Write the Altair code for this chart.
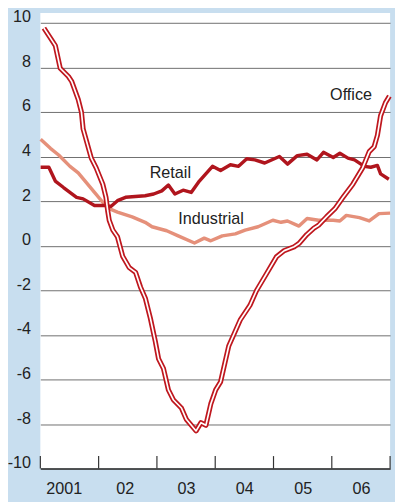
import altair as alt
import pandas as pd

# ---- data (x = fractional year, y = percent) ----
office_x = [2001.062, 2001.202, 2001.257, 2001.341, 2001.482, 2001.538, 2001.650, 2001.706,
            2001.734, 2001.874, 2001.958, 2002.071, 2002.126, 2002.155, 2002.182, 2002.244,
            2002.323, 2002.412, 2002.524, 2002.635, 2002.719, 2002.803, 2002.887, 2002.971,
            2003.029, 2003.113, 2003.197, 2003.281, 2003.420, 2003.504, 2003.672, 2003.756,
            2003.840, 2003.924, 2004.008, 2004.092, 2004.232, 2004.429, 2004.597, 2004.709,
            2004.877, 2005.050, 2005.185, 2005.353, 2005.437, 2005.571, 2005.689, 2005.773,
            2005.908, 2006.054, 2006.193, 2006.361, 2006.529, 2006.642, 2006.726, 2006.782,
            2006.837, 2006.921, 2006.988]
office_y = [9.76, 9.20, 8.98, 7.96, 7.59, 7.37, 6.56, 5.98,
            5.24, 3.93, 3.49, 2.76, 2.17, 1.58, 1.14, 0.70,
            0.40, -0.47, -0.98, -1.20, -1.86, -2.37, -3.25, -4.28,
            -5.08, -5.52, -6.47, -6.91, -7.28, -7.79, -8.31, -7.94,
            -8.06, -7.10, -6.47, -6.11, -4.50, -3.33, -2.67, -2.01,
            -1.27, -0.50, -0.22, -0.05, 0.10, 0.50, 0.78, 0.92,
            1.29, 1.66, 2.17, 2.76, 3.49, 4.22, 4.44, 4.95,
            5.83, 6.42, 6.71]

retail_x = [2001.005, 2001.146, 2001.257, 2001.398, 2001.622, 2001.734, 2001.929, 2002.126,
            2002.210, 2002.323, 2002.462, 2002.798, 2002.945, 2003.084, 2003.197, 2003.308,
            2003.449, 2003.588, 2003.728, 2003.953, 2004.092, 2004.261, 2004.400, 2004.541,
            2004.681, 2004.849, 2005.101, 2005.240, 2005.408, 2005.576, 2005.745, 2005.857,
            2006.025, 2006.138, 2006.277, 2006.390, 2006.558, 2006.669, 2006.782, 2006.837,
            2006.978]
retail_y = [3.52, 3.52, 2.90, 2.61, 2.17, 2.10, 1.80, 1.80,
            1.76, 2.02, 2.17, 2.24, 2.32, 2.46, 2.72, 2.32,
            2.49, 2.39, 2.90, 3.56, 3.37, 3.63, 3.56, 3.90,
            3.85, 3.71, 4.00, 3.66, 4.04, 4.10, 3.85, 4.19,
            3.96, 4.15, 3.93, 3.85, 3.56, 3.52, 3.60, 3.22,
            2.98]

industrial_x = [2001.005, 2001.173, 2001.314, 2001.509, 2001.650, 2001.790, 2001.929, 2002.071,
                2002.182, 2002.323, 2002.575, 2002.798, 2002.916, 2003.168, 2003.365, 2003.644,
                2003.812, 2003.924, 2004.121, 2004.345, 2004.513, 2004.736, 2004.988, 2005.129,
                2005.240, 2005.437, 2005.576, 2005.773, 2006.025, 2006.138, 2006.249, 2006.474,
                2006.642, 2006.810, 2007.000]
industrial_y = [4.78, 4.37, 4.07, 3.56, 3.27, 2.83, 2.39, 1.95,
                1.66, 1.51, 1.29, 1.05, 0.85, 0.67, 0.44, 0.12,
                0.34, 0.22, 0.44, 0.53, 0.70, 0.85, 1.14, 1.05,
                1.11, 0.88, 1.22, 1.14, 1.14, 1.11, 1.36, 1.26,
                1.11, 1.44, 1.46]

year_ticks = [2001, 2002, 2003, 2004, 2005, 2006, 2007]
x_label_pos = [2001.4, 2002.45, 2003.5, 2004.5, 2005.5, 2006.5]
y_ticks = [-10, -8, -6, -4, -2, 0, 2, 4, 6, 8, 10]

series_labels = ["Office", "Retail", "Industrial"]
series_label_x = [2006.33, 2003.23, 2003.93]
series_label_y = [6.77, 3.25, 1.21]

# ---- tables ----
office = pd.DataFrame({"x": office_x, "y": office_y})
retail = pd.DataFrame({"x": retail_x, "y": retail_y})
industrial = pd.DataFrame({"x": industrial_x, "y": industrial_y})
ticks = pd.DataFrame({"x": year_ticks, "y": [-10] * len(year_ticks), "y2": [-9.44] * len(year_ticks)})
labels = pd.DataFrame({"label": series_labels, "x": series_label_x, "y": series_label_y})

FONT = "Liberation Sans, Arial, sans-serif"
FS = 16.5
TXT = "#222222"

xscale = alt.Scale(domain=[2001, 2007], nice=False, zero=False)
yscale = alt.Scale(domain=[-10, 10.44], nice=False, zero=False)

xaxis = alt.Axis(values=x_label_pos, title=None, grid=False, ticks=False, tickSize=0,
                 domain=True, domainColor="#333333", domainWidth=1.5,
                 labelExpr="datum.value < 2002 ? '2001' : '0' + floor(datum.value - 2000)",
                 labelFont=FONT, labelFontSize=FS, labelColor=TXT,
                 labelBaseline="middle", labelPadding=20, labelAlign="center")
yaxis = alt.Axis(values=y_ticks, title=None, grid=True, gridColor="#6e6e6e", gridWidth=1,
                 ticks=False, tickSize=0, domain=False,
                 labelExpr="toString(datum.value)",
                 labelFont=FONT, labelFontSize=FS, labelColor=TXT,
                 labelBaseline="alphabetic", labelPadding=10, labelOffset=-1)

X = alt.X("x:Q", scale=xscale, axis=xaxis)
Y = alt.Y("y:Q", scale=yscale, axis=yaxis)

tick_layer = alt.Chart(ticks).mark_rule(color="#333333", strokeWidth=1.2).encode(
    x=X, y=Y, y2="y2:Q")

ind_layer = alt.Chart(industrial).mark_line(color="#e5907a", strokeWidth=3.5,
                                             strokeJoin="round").encode(x=X, y=Y)
ret_layer = alt.Chart(retail).mark_line(color="#b0151d", strokeWidth=3.5,
                                         strokeJoin="round").encode(x=X, y=Y)
off_outer = alt.Chart(office).mark_line(color="#bf171e", strokeWidth=5.2,
                                         strokeJoin="round").encode(x=X, y=Y)
off_inner = alt.Chart(office).mark_line(color="#ffffff", strokeWidth=1.7,
                                         strokeJoin="round").encode(x=X, y=Y)

text_layer = alt.Chart(labels).mark_text(font=FONT, fontSize=FS, color=TXT,
                                          align="center", baseline="middle").encode(
    x=X, y=Y, text="label:N")

chart = alt.layer(tick_layer, ind_layer, ret_layer, off_outer, off_inner, text_layer).properties(
    width=357, height=465,
    autosize=alt.AutoSizeParams(type="none"),
    padding={"left": 33, "top": 0, "right": 5, "bottom": 29},
    background="#c8deef",
).configure_view(fill="#ffffff", stroke=None)

chart.save("out.html", embed_options={"renderer": "svg", "actions": False})
